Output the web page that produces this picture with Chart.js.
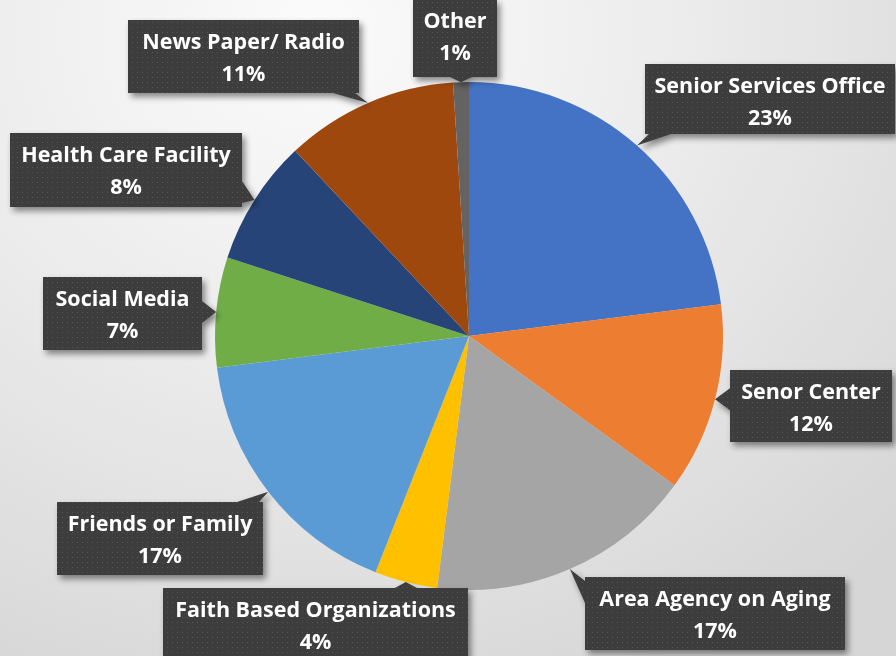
<!DOCTYPE html>
<html>
<head>
<meta charset="utf-8">
<script src="https://cdn.jsdelivr.net/npm/chart.js@4"></script>
<style>
  html, body { margin: 0; padding: 0; }
  body {
    width: 896px; height: 656px; overflow: hidden;
    background: radial-gradient(ellipse 90% 110% at 35% 5%, #fbfbfb 0%, #ececec 45%, #d6d6d6 100%);
  }
  #wrap { position: relative; width: 896px; height: 656px; }
</style>
</head>
<body>
<div id="wrap"><canvas id="pieChart" width="896" height="656"></canvas></div>
<script>
/* ---------- data ---------- */
const categories = [
    'Senior Services Office',
    'Senor Center',
    'Area Agency on Aging',
    'Faith Based Organizations',
    'Friends or Family',
    'Social Media',
    'Health Care Facility',
    'News Paper/ Radio',
    'Other'
];
const shares = [23, 12, 17, 4, 17, 7, 8, 11, 1];
const sliceColors = [
    '#4472C4', '#ED7D31', '#A5A5A5', '#FFC000', '#5B9BD5',
    '#70AD47', '#264478', '#9E480E', '#636363'
];

// callout boxes [x, y, w, h], one per slice
const calloutBoxes = [
    [645, 64, 250, 70],
    [730, 370, 162, 72],
    [585, 577, 260, 73],
    [163, 588, 305, 75],
    [57, 502, 206, 73],
    [43, 277, 159, 73],
    [10, 133, 232, 74],
    [128, 20, 231, 73],
    [413, -1, 84, 78]
];

/* ---------- dotted fill for the callouts ---------- */
function dotPattern(ctx) {
    const c = document.createElement('canvas');
    c.width = 5; c.height = 5;
    const p = c.getContext('2d');
    p.fillStyle = '#3d3d3d';
    p.fillRect(0, 0, 5, 5);
    p.fillStyle = '#575757';
    p.fillRect(2, 2, 1, 1);
    return ctx.createPattern(c, 'repeat');
}

// box outline with a wedge running out to the tip point
function calloutPath(ctx, box, tip) {
    const [x, y, w, h] = box;
    const r = x + w, b = y + h;
    const half = 11;
    let side;
    const dl = x - tip.x, dr = tip.x - r, dt = y - tip.y, db = tip.y - b;
    const m = Math.max(dl, dr, dt, db);
    if (m <= 0) side = null;
    else if (m === dl) side = 'l';
    else if (m === dr) side = 'r';
    else if (m === dt) side = 't';
    else side = 'b';

    const clamp = (v, lo, hi) => Math.max(lo, Math.min(hi, v));
    ctx.beginPath();
    ctx.moveTo(x, y);
    if (side === 't') {
        const cx = clamp(tip.x, x + half + 4, r - half - 4);
        ctx.lineTo(cx - half, y); ctx.lineTo(tip.x, tip.y); ctx.lineTo(cx + half, y);
    }
    ctx.lineTo(r, y);
    if (side === 'r') {
        const cy = clamp(tip.y, y + half + 4, b - half - 4);
        ctx.lineTo(r, cy - half); ctx.lineTo(tip.x, tip.y); ctx.lineTo(r, cy + half);
    }
    ctx.lineTo(r, b);
    if (side === 'b') {
        const cx = clamp(tip.x, x + half + 4, r - half - 4);
        ctx.lineTo(cx + half, b); ctx.lineTo(tip.x, tip.y); ctx.lineTo(cx - half, b);
    }
    ctx.lineTo(x, b);
    if (side === 'l') {
        const cy = clamp(tip.y, y + half + 4, b - half - 4);
        ctx.lineTo(x, cy + half); ctx.lineTo(tip.x, tip.y); ctx.lineTo(x, cy - half);
    }
    ctx.closePath();
}

const calloutPlugin = {
    id: 'callouts',
    afterDatasetsDraw(chart) {
        const ctx = chart.ctx;
        const meta = chart.getDatasetMeta(0);
        const fill = dotPattern(ctx);
        const total = shares.reduce((a, v) => a + v, 0);

        meta.data.forEach((arc, i) => {
            const p = arc.getProps(['x', 'y', 'startAngle', 'endAngle', 'outerRadius'], true);
            const mid = (p.startAngle + p.endAngle) / 2;
            const tip = {
                x: p.x + Math.cos(mid) * p.outerRadius,
                y: p.y + Math.sin(mid) * p.outerRadius
            };
            const box = calloutBoxes[i];

            ctx.save();
            ctx.shadowColor = 'rgba(0,0,0,0.45)';
            ctx.shadowBlur = 6;
            ctx.shadowOffsetX = 3;
            ctx.shadowOffsetY = 4;
            calloutPath(ctx, box, tip);
            ctx.fillStyle = fill;
            ctx.fill();
            ctx.restore();

            const pct = Math.round(shares[i] / total * 100) + '%';
            const cx = box[0] + box[2] / 2;
            ctx.save();
            ctx.fillStyle = '#ffffff';
            ctx.font = 'bold 21.5px "Open Sans", Lato, sans-serif';
            ctx.textAlign = 'center';
            ctx.textBaseline = 'middle';
            ctx.fillText(categories[i], cx, box[1] + 23);
            ctx.fillText(pct, cx, box[1] + 55);
            ctx.restore();
        });
    }
};

/* ---------- chart ---------- */
function initPie() {
    const canvas = document.getElementById('pieChart');
    new Chart(canvas.getContext('2d'), {
        type: 'pie',
        data: {
            labels: categories,
            datasets: [{
                data: shares,
                backgroundColor: sliceColors,
                borderWidth: 0
            }]
        },
        options: {
            responsive: false,
            animation: false,
            layout: { padding: { left: 200, right: 158, top: 82, bottom: 66 } },
            plugins: {
                legend: { display: false },
                tooltip: { enabled: false }
            }
        },
        plugins: [calloutPlugin]
    });
}

initPie();
</script>
</body>
</html>
